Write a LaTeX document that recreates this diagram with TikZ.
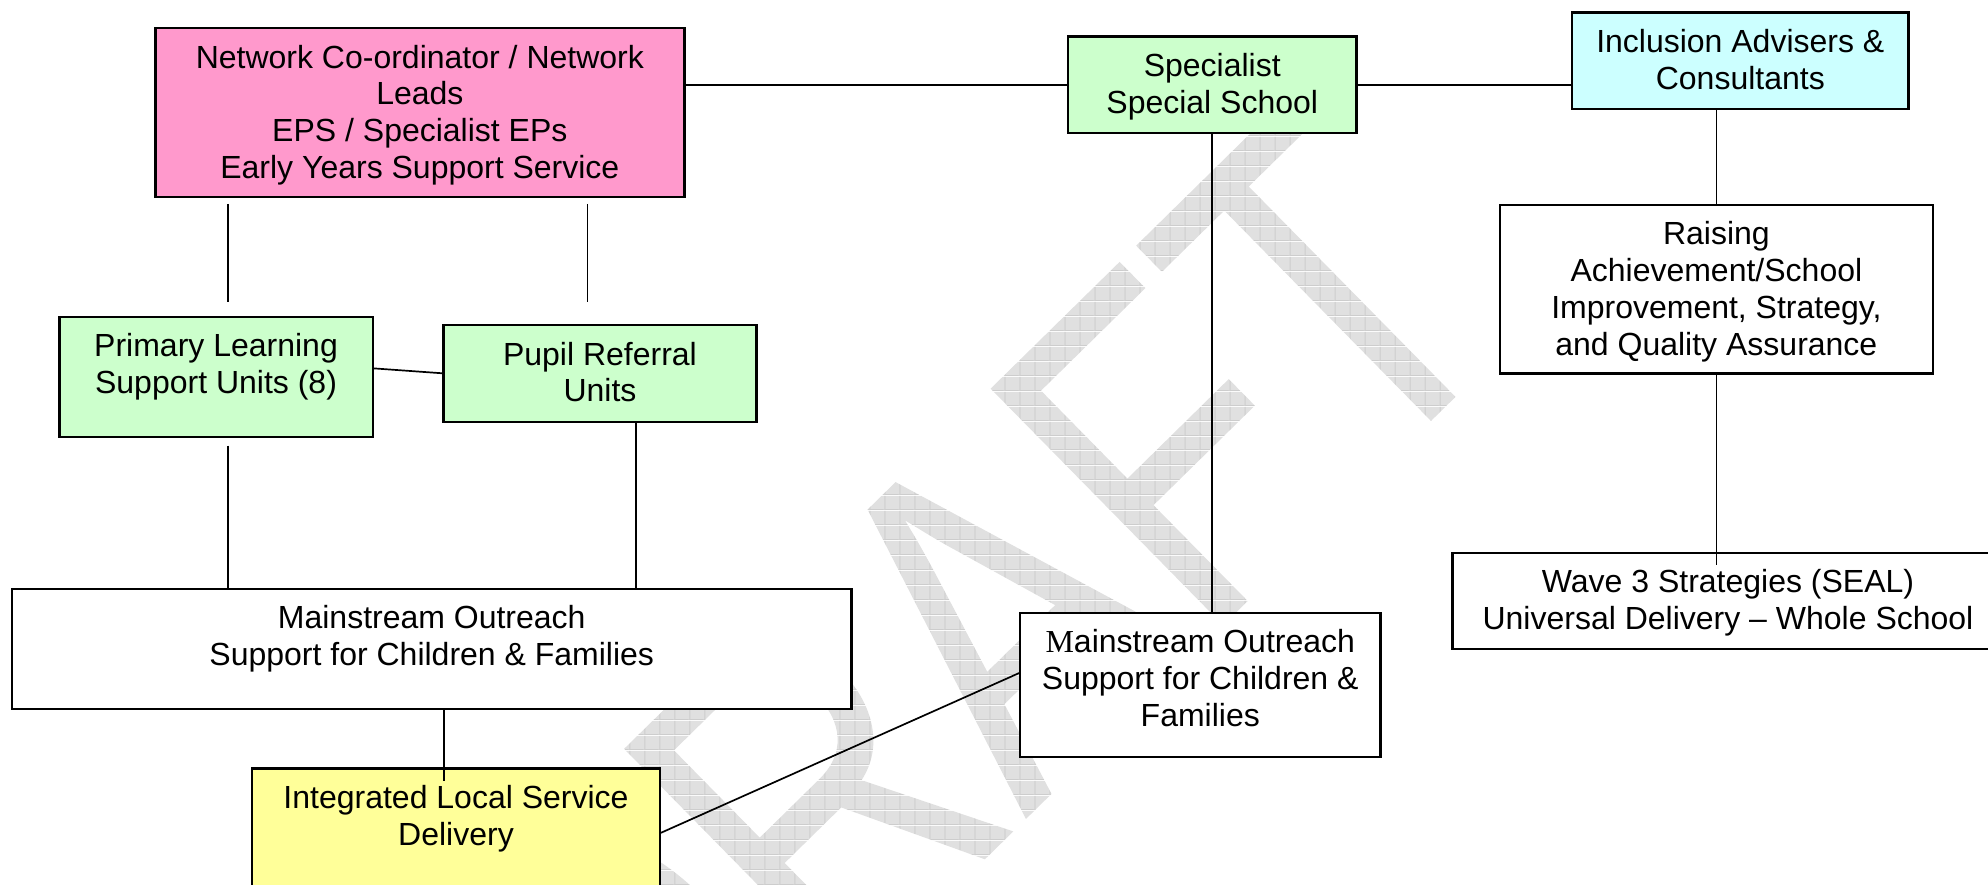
\documentclass[tikz,border=0pt]{standalone}
\usepackage{fontspec}
\setmainfont{Liberation Sans}
\newfontfamily\timesface{Liberation Serif}
\newfontfamily\wmface{Liberation Sans}
\usetikzlibrary{patterns}

\definecolor{rosefill}{HTML}{FF99CC}
\definecolor{mintfill}{HTML}{CCFFCC}
\definecolor{aquafill}{HTML}{CCFFFF}
\definecolor{lemonfill}{HTML}{FFFF99}
\definecolor{wmback}{HTML}{E0E0E0}
\definecolor{wmline}{HTML}{CDCDCD}

% light grey tile with a fine grid, used to paint the watermark letters
\pgfdeclarepatterninherentlycolored{wmgrid}
  {\pgfpointorigin}{\pgfqpoint{15pt}{15pt}}{\pgfqpoint{15pt}{15pt}}
  {%
    \pgfsetfillcolor{wmback}%
    \pgfpathrectangle{\pgfpointorigin}{\pgfqpoint{15pt}{15pt}}%
    \pgfusepath{fill}%
    \pgfsetfillcolor{wmline}%
    \pgfpathrectangle{\pgfpointorigin}{\pgfqpoint{15pt}{1pt}}%
    \pgfpathrectangle{\pgfpointorigin}{\pgfqpoint{1pt}{15pt}}%
    \pgfusepath{fill}%
  }

% box contents: width, height, lines; first baseline 40pt below the top edge
\newcommand\boxbody[3]{\parbox[c][#2][t]{#1}{\fontsize{32pt}{36.7pt}\selectfont\centering\rule{0pt}{40pt}#3}}

\tikzset{
  box/.style={draw=black, line width=2.4pt, inner sep=0pt, outer sep=0pt, anchor=north west},
  link/.style={draw=black, line width=1.7pt},
  wm/.style={anchor=base west, inner sep=0pt, outer sep=0pt, rotate=44.5, yscale=1.303,
             font=\wmface\fontsize{370pt}{370pt}\selectfont},
}

\begin{document}
\begin{tikzpicture}[x=1pt, y=-1pt]
\fill[white] (0,0) rectangle (1988,885);
\useasboundingbox (0,0) rectangle (1988,885);

% watermark, its glyphs painted with the grid tile
\node[wm] (draft) at (644.4,1193.9) {\pgfsetfillpattern{wmgrid}{black}DRAFT};

% boxes
\node[box, fill=rosefill] (pink) at (155.4,28.3)
  {\boxbody{528.9pt}{169pt}{Network Co-ordinator / Network\\Leads\\EPS / Specialist EPs\\Early Years Support Service}};
\node[box, fill=mintfill] (plsu) at (59.4,316.7)
  {\boxbody{313.3pt}{120pt}{Primary Learning\\Support Units (8)}};
\node[box, fill=mintfill] (pru) at (443.3,325)
  {\boxbody{313.3pt}{96.7pt}{Pupil Referral\\Units}};
\node[box, fill=mintfill] (spec) at (1067.9,36.7)
  {\boxbody{288.7pt}{96.6pt}{Specialist\\Special School}};
\node[box, fill=aquafill] (incl) at (1572,12.7)
  {\boxbody{336.6pt}{96.3pt}{Inclusion Advisers \&\\Consultants}};
\node[box, fill=white] (raise) at (1500,205)
  {\boxbody{432.7pt}{168.3pt}{Raising\\Achievement/School\\Improvement, Strategy,\\and Quality Assurance}};
\node[box, fill=white] (ms1) at (12,588.7)
  {\boxbody{839.5pt}{120pt}{Mainstream Outreach\\Support for Children \& Families}};
\node[box, fill=lemonfill] (ild) at (252.2,768.3)
  {\boxbody{407.6pt}{140pt}{Integrated Local Service\\Delivery}};
\node[box, fill=white] (ms2) at (1019.9,612.7)
  {\boxbody{360.7pt}{144pt}{{\timesface M}ainstream Outreach\\Support for Children \&\\Families}};
\node[box, fill=white] (wave) at (1452.3,552.7)
  {\boxbody{551.4pt}{96.3pt}{Wave 3 Strategies (SEAL)\\Universal Delivery – Whole School}};

% connector columns
\coordinate (xa) at (228,0);
\coordinate (xb) at (587.5,0);
\coordinate (xc) at (636,0);
\coordinate (xd) at (444,0);

% connectors
\draw[link, shorten <=6.7pt, shorten >=14.7pt] (pink.south -| xa) -- (plsu.north -| xa);
\draw[link, shorten <=6.7pt, shorten >=23pt] (pink.south -| xb) -- (pru.north -| xb);
\draw[link] ([yshift=8.4pt]plsu.east) -- (pru.west);
\draw[link, shorten <=9pt] (plsu.south -| xa) -- (ms1.north -| xa);
\draw[link] (pru.south -| xc) -- (ms1.north -| xc);
\draw[link, shorten >=-12.7pt] (ms1.south -| xd) -- (ild.north -| xd);
\draw[link] ([yshift=-65pt]ild.north east) -- ([yshift=12pt]ms2.west);
\draw[link] (pink.east |- spec.west) -- (spec.west);
\draw[link] (spec.east) -- (spec.east -| incl.west);
\draw[link] (spec.south) -- (spec.south |- ms2.north);
\draw[link] (raise.north |- incl.south) -- (raise.north);
\draw[link, shorten >=-12.3pt] (raise.south) -- (raise.south |- wave.north);
\end{tikzpicture}
\end{document}
